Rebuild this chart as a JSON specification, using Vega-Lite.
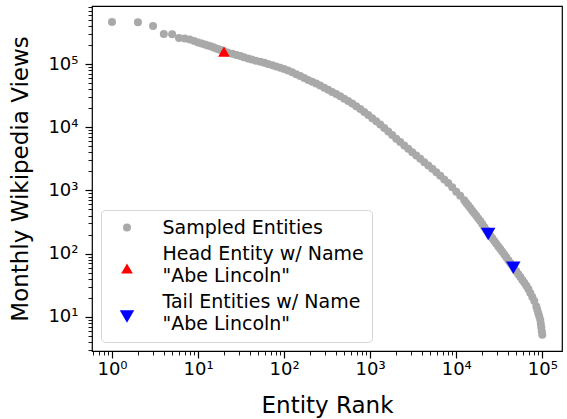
{
  "$schema": "https://vega.github.io/schema/vega-lite/v6.json",
  "description": "Monthly Wikipedia views by entity rank, log-log.",
  "width": 470,
  "height": 345,
  "autosize": "none",
  "padding": {"left": 92, "top": 6, "right": 5, "bottom": 68},
  "background": "white",
  "config": {
    "font": "DejaVu Sans",
    "view": {"stroke": "black", "strokeWidth": 1.2},
    "axis": {
      "labelFont": "DejaVu Sans", "titleFont": "DejaVu Sans",
      "labelFontSize": 18, "titleFontSize": 23, "titleFontWeight": "normal",
      "labelColor": "black", "titleColor": "black", "tickColor": "black",
      "grid": false, "domain": false, "labelOverlap": false, "labelFlush": false
    }
  },
  "data": {
    "values": [
      {"rank": 1, "views": 462000, "group": "Sampled Entities"},
      {"rank": 2, "views": 458000, "group": "Sampled Entities"},
      {"rank": 3, "views": 399000, "group": "Sampled Entities"},
      {"rank": 4, "views": 298000, "group": "Sampled Entities"},
      {"rank": 5, "views": 296000, "group": "Sampled Entities"},
      {"rank": 6, "views": 258000, "group": "Sampled Entities"},
      {"rank": 7, "views": 253000, "group": "Sampled Entities"},
      {"rank": 8, "views": 244000, "group": "Sampled Entities"},
      {"rank": 9, "views": 231000, "group": "Sampled Entities"},
      {"rank": 10, "views": 219000, "group": "Sampled Entities"},
      {"rank": 11, "views": 211000, "group": "Sampled Entities"},
      {"rank": 12, "views": 203000, "group": "Sampled Entities"},
      {"rank": 13, "views": 196000, "group": "Sampled Entities"},
      {"rank": 14, "views": 191000, "group": "Sampled Entities"},
      {"rank": 15, "views": 184000, "group": "Sampled Entities"},
      {"rank": 16, "views": 178000, "group": "Sampled Entities"},
      {"rank": 17, "views": 173000, "group": "Sampled Entities"},
      {"rank": 18, "views": 168000, "group": "Sampled Entities"},
      {"rank": 19, "views": 164000, "group": "Sampled Entities"},
      {"rank": 20, "views": 159000, "group": "Sampled Entities"},
      {"rank": 22, "views": 152100, "group": "Sampled Entities"},
      {"rank": 25, "views": 145500, "group": "Sampled Entities"},
      {"rank": 28, "views": 139300, "group": "Sampled Entities"},
      {"rank": 31, "views": 133400, "group": "Sampled Entities"},
      {"rank": 34, "views": 128100, "group": "Sampled Entities"},
      {"rank": 38, "views": 122600, "group": "Sampled Entities"},
      {"rank": 42, "views": 117600, "group": "Sampled Entities"},
      {"rank": 47, "views": 113000, "group": "Sampled Entities"},
      {"rank": 53, "views": 108550, "group": "Sampled Entities"},
      {"rank": 59, "views": 104300, "group": "Sampled Entities"},
      {"rank": 65, "views": 100200, "group": "Sampled Entities"},
      {"rank": 73, "views": 95900, "group": "Sampled Entities"},
      {"rank": 81, "views": 91620, "group": "Sampled Entities"},
      {"rank": 90, "views": 87420, "group": "Sampled Entities"},
      {"rank": 100, "views": 83350, "group": "Sampled Entities"},
      {"rank": 111, "views": 78920, "group": "Sampled Entities"},
      {"rank": 124, "views": 73900, "group": "Sampled Entities"},
      {"rank": 138, "views": 68960, "group": "Sampled Entities"},
      {"rank": 154, "views": 64350, "group": "Sampled Entities"},
      {"rank": 171, "views": 60050, "group": "Sampled Entities"},
      {"rank": 190, "views": 56030, "group": "Sampled Entities"},
      {"rank": 212, "views": 52470, "group": "Sampled Entities"},
      {"rank": 236, "views": 48970, "group": "Sampled Entities"},
      {"rank": 262, "views": 45680, "group": "Sampled Entities"},
      {"rank": 292, "views": 42320, "group": "Sampled Entities"},
      {"rank": 325, "views": 39210, "group": "Sampled Entities"},
      {"rank": 362, "views": 36180, "group": "Sampled Entities"},
      {"rank": 403, "views": 33520, "group": "Sampled Entities"},
      {"rank": 448, "views": 30830, "group": "Sampled Entities"},
      {"rank": 499, "views": 28240, "group": "Sampled Entities"},
      {"rank": 555, "views": 25980, "group": "Sampled Entities"},
      {"rank": 618, "views": 23800, "group": "Sampled Entities"},
      {"rank": 688, "views": 21490, "group": "Sampled Entities"},
      {"rank": 766, "views": 19340, "group": "Sampled Entities"},
      {"rank": 853, "views": 17340, "group": "Sampled Entities"},
      {"rank": 949, "views": 15600, "group": "Sampled Entities"},
      {"rank": 1056, "views": 13930, "group": "Sampled Entities"},
      {"rank": 1176, "views": 12400, "group": "Sampled Entities"},
      {"rank": 1309, "views": 11030, "group": "Sampled Entities"},
      {"rank": 1457, "views": 9710, "group": "Sampled Entities"},
      {"rank": 1621, "views": 8520, "group": "Sampled Entities"},
      {"rank": 1805, "views": 7500, "group": "Sampled Entities"},
      {"rank": 2009, "views": 6600, "group": "Sampled Entities"},
      {"rank": 2236, "views": 5832, "group": "Sampled Entities"},
      {"rank": 2489, "views": 5152, "group": "Sampled Entities"},
      {"rank": 2771, "views": 4552, "group": "Sampled Entities"},
      {"rank": 3084, "views": 4022, "group": "Sampled Entities"},
      {"rank": 3433, "views": 3566, "group": "Sampled Entities"},
      {"rank": 3822, "views": 3162, "group": "Sampled Entities"},
      {"rank": 4254, "views": 2804, "group": "Sampled Entities"},
      {"rank": 4735, "views": 2487, "group": "Sampled Entities"},
      {"rank": 5271, "views": 2197, "group": "Sampled Entities"},
      {"rank": 5867, "views": 1934, "group": "Sampled Entities"},
      {"rank": 6516, "views": 1702, "group": "Sampled Entities"},
      {"rank": 7253, "views": 1493, "group": "Sampled Entities"},
      {"rank": 8073, "views": 1305, "group": "Sampled Entities"},
      {"rank": 8986, "views": 1120, "group": "Sampled Entities"},
      {"rank": 10003, "views": 957, "group": "Sampled Entities"},
      {"rank": 11131, "views": 821, "group": "Sampled Entities"},
      {"rank": 12390, "views": 697, "group": "Sampled Entities"},
      {"rank": 13072, "views": 634, "group": "Sampled Entities"},
      {"rank": 13792, "views": 577, "group": "Sampled Entities"},
      {"rank": 14551, "views": 526, "group": "Sampled Entities"},
      {"rank": 15352, "views": 479, "group": "Sampled Entities"},
      {"rank": 16197, "views": 436, "group": "Sampled Entities"},
      {"rank": 17088, "views": 396, "group": "Sampled Entities"},
      {"rank": 18029, "views": 361, "group": "Sampled Entities"},
      {"rank": 19021, "views": 328, "group": "Sampled Entities"},
      {"rank": 20068, "views": 294, "group": "Sampled Entities"},
      {"rank": 21173, "views": 264, "group": "Sampled Entities"},
      {"rank": 22339, "views": 236, "group": "Sampled Entities"},
      {"rank": 23568, "views": 212, "group": "Sampled Entities"},
      {"rank": 24866, "views": 192, "group": "Sampled Entities"},
      {"rank": 26233, "views": 175, "group": "Sampled Entities"},
      {"rank": 27677, "views": 158, "group": "Sampled Entities"},
      {"rank": 29200, "views": 143, "group": "Sampled Entities"},
      {"rank": 30808, "views": 130, "group": "Sampled Entities"},
      {"rank": 32503, "views": 118, "group": "Sampled Entities"},
      {"rank": 34293, "views": 107, "group": "Sampled Entities"},
      {"rank": 36180, "views": 96.8, "group": "Sampled Entities"},
      {"rank": 38172, "views": 87.4, "group": "Sampled Entities"},
      {"rank": 40272, "views": 78.9, "group": "Sampled Entities"},
      {"rank": 42489, "views": 71.4, "group": "Sampled Entities"},
      {"rank": 44827, "views": 64.6, "group": "Sampled Entities"},
      {"rank": 47295, "views": 58.2, "group": "Sampled Entities"},
      {"rank": 49897, "views": 52.5, "group": "Sampled Entities"},
      {"rank": 52644, "views": 47.3, "group": "Sampled Entities"},
      {"rank": 55541, "views": 42.6, "group": "Sampled Entities"},
      {"rank": 58599, "views": 38.4, "group": "Sampled Entities"},
      {"rank": 61823, "views": 34.6, "group": "Sampled Entities"},
      {"rank": 65226, "views": 30.9, "group": "Sampled Entities"},
      {"rank": 68815, "views": 27.5, "group": "Sampled Entities"},
      {"rank": 72540, "views": 23.8, "group": "Sampled Entities"},
      {"rank": 76598, "views": 20.6, "group": "Sampled Entities"},
      {"rank": 80720, "views": 17.8, "group": "Sampled Entities"},
      {"rank": 85262, "views": 14.6, "group": "Sampled Entities"},
      {"rank": 87480, "views": 12.9, "group": "Sampled Entities"},
      {"rank": 89850, "views": 11.4, "group": "Sampled Entities"},
      {"rank": 92280, "views": 10.1, "group": "Sampled Entities"},
      {"rank": 94780, "views": 8.9, "group": "Sampled Entities"},
      {"rank": 96070, "views": 7.8, "group": "Sampled Entities"},
      {"rank": 97360, "views": 6.8, "group": "Sampled Entities"},
      {"rank": 98670, "views": 5.9, "group": "Sampled Entities"},
      {"rank": 100000, "views": 5.2, "group": "Sampled Entities"},
      {"rank": 20, "views": 157000, "group": "Head Entity w/ Name \"Abe Lincoln\""},
      {"rank": 23500, "views": 205, "group": "Tail Entities w/ Name \"Abe Lincoln\""},
      {"rank": 46000, "views": 60, "group": "Tail Entities w/ Name \"Abe Lincoln\""}
    ]
  },
  "mark": {"type": "point", "filled": true, "opacity": 1, "strokeWidth": 0},
  "encoding": {
    "x": {
      "field": "rank", "type": "quantitative", "title": "Entity Rank",
      "scale": {"type": "log", "domain": [0.5855, 169400], "nice": false},
      "axis": {
        "values": [0.6, 0.7, 0.8, 0.9, 1, 2, 3, 4, 5, 6, 7, 8, 9, 10, 20, 30, 40, 50, 60, 70, 80, 90, 100, 200, 300, 400, 500, 600, 700, 800, 900, 1000, 2000, 3000, 4000, 5000, 6000, 7000, 8000, 9000, 10000, 20000, 30000, 40000, 50000, 60000, 70000, 80000, 90000, 100000],
        "labelExpr": "abs(log(datum.value)/LN10 - round(log(datum.value)/LN10)) < 0.001 ? '10' + ['⁰','¹','²','³','⁴','⁵'][round(log(datum.value)/LN10)] : ''",
        "tickSize": {"condition": {"test": "abs(log(datum.value)/LN10 - round(log(datum.value)/LN10)) < 0.001", "value": 7}, "value": 4},
        "tickWidth": {"condition": {"test": "abs(log(datum.value)/LN10 - round(log(datum.value)/LN10)) < 0.001", "value": 1.2}, "value": 0.9},
        "labelPadding": 2,
        "titlePadding": 16
      }
    },
    "y": {
      "field": "views", "type": "quantitative", "title": "Monthly Wikipedia Views",
      "scale": {"type": "log", "domain": [2.88, 828000], "nice": false},
      "axis": {
        "values": [3, 4, 5, 6, 7, 8, 9, 10, 20, 30, 40, 50, 60, 70, 80, 90, 100, 200, 300, 400, 500, 600, 700, 800, 900, 1000, 2000, 3000, 4000, 5000, 6000, 7000, 8000, 9000, 10000, 20000, 30000, 40000, 50000, 60000, 70000, 80000, 90000, 100000, 200000, 300000, 400000, 500000, 600000, 700000, 800000],
        "labelExpr": "abs(log(datum.value)/LN10 - round(log(datum.value)/LN10)) < 0.001 ? '10' + ['⁰','¹','²','³','⁴','⁵'][round(log(datum.value)/LN10)] : ''",
        "tickSize": {"condition": {"test": "abs(log(datum.value)/LN10 - round(log(datum.value)/LN10)) < 0.001", "value": 7}, "value": 4},
        "tickWidth": {"condition": {"test": "abs(log(datum.value)/LN10 - round(log(datum.value)/LN10)) < 0.001", "value": 1.2}, "value": 0.9},
        "labelPadding": 7,
        "titlePadding": 15
      }
    },
    "color": {
      "field": "group", "type": "nominal",
      "scale": {
        "domain": ["Sampled Entities", "Head Entity w/ Name \"Abe Lincoln\"", "Tail Entities w/ Name \"Abe Lincoln\""],
        "range": ["#a9a9a9", "#ff0000", "#0000ff"]
      },
      "legend": {
        "title": null,
        "orient": "bottom-left",
        "offset": 9,
        "padding": 8,
        "fillColor": "white",
        "strokeColor": "#d6d6d6",
        "cornerRadius": 4,
        "labelFont": "DejaVu Sans",
        "labelFontSize": 19,
        "labelColor": "black",
        "labelLimit": 0,
        "labelOffset": 26,
        "symbolOffset": 8.5,
        "symbolStrokeWidth": 0,
        "symbolOpacity": 1,
        "rowPadding": 6,
        "labelExpr": "split(replace(datum.label, 'Name ', 'Name|'), '|')",
        "encode": {
          "labels": {
            "update": {
              "lineHeight": {"value": 22.5},
              "dy": {"signal": "datum.value === 'Sampled Entities' ? 0 : -15"}
            }
          }
        }
      }
    },
    "shape": {
      "field": "group", "type": "nominal",
      "scale": {
        "domain": ["Sampled Entities", "Head Entity w/ Name \"Abe Lincoln\"", "Tail Entities w/ Name \"Abe Lincoln\""],
        "range": ["circle", "triangle-up", "triangle-down"]
      }
    },
    "size": {
      "field": "group", "type": "nominal",
      "scale": {
        "domain": ["Sampled Entities", "Head Entity w/ Name \"Abe Lincoln\"", "Tail Entities w/ Name \"Abe Lincoln\""],
        "range": [64, 210, 210]
      }
    }
  }
}
